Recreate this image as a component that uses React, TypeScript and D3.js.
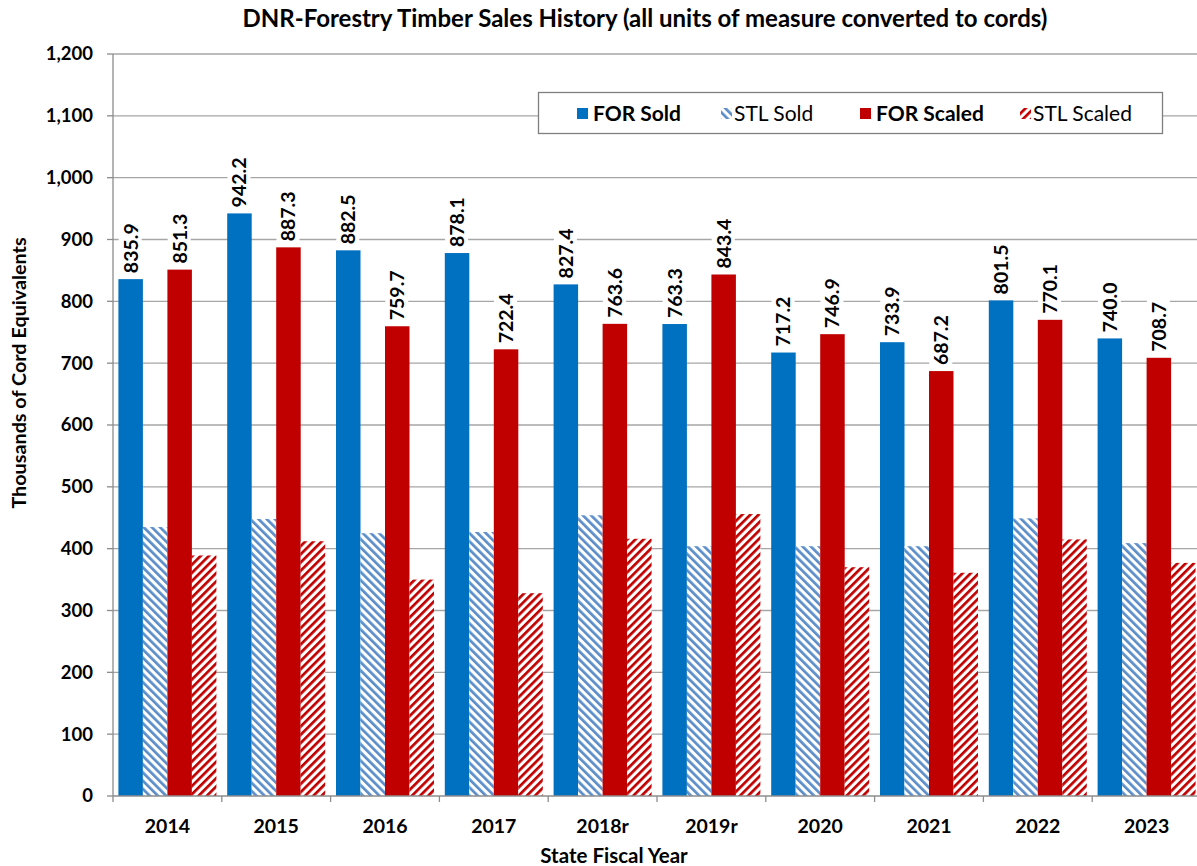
import React, { useEffect, useRef } from "react";
import * as d3 from "d3";

const categories = ["2014", "2015", "2016", "2017", "2018r", "2019r", "2020", "2021", "2022", "2023"];
const seriesNames = ["FOR Sold", "STL Sold", "FOR Scaled", "STL Scaled"];
const forSold = [835.9, 942.2, 882.5, 878.1, 827.4, 763.3, 717.2, 733.9, 801.5, 740.0];
const stlSold = [435, 448, 425, 427, 454, 404, 404, 404, 449, 409];
const forScaled = [851.3, 887.3, 759.7, 722.4, 763.6, 843.4, 746.9, 687.2, 770.1, 708.7];
const stlScaled = [389, 412, 350, 328, 416, 456, 370, 361, 415, 377];
const yTicks = [0, 100, 200, 300, 400, 500, 600, 700, 800, 900, 1000, 1100, 1200];

const W = 1197;
const H = 866;
const FONT = "Lato, 'Open Sans', sans-serif";

export default function App() {
  const ref = useRef<SVGSVGElement>(null);

  useEffect(() => {
    const svg = d3.select(ref.current);
    svg.selectAll("*").remove();

    const left = 113;
    const step = 108.8;
    const top = 54;
    const bottom = 796;

    const x = d3.scaleBand().domain(categories).range([left, left + step * 10]).paddingInner(0).paddingOuter(0);
    const xi = d3.scaleBand().domain(seriesNames).range([5.4, step - 5.4]).padding(0);
    const y = d3.scaleLinear().domain([0, 1200]).range([bottom, top]);

    const defs = svg.append("defs");
    const mk = (id: string, color: string, angle: number) => {
      const p = defs.append("pattern")
        .attr("id", id)
        .attr("patternUnits", "userSpaceOnUse")
        .attr("width", 5.8)
        .attr("height", 10)
        .attr("patternTransform", `rotate(${angle})`);
      p.append("rect").attr("width", 5.8).attr("height", 10).attr("fill", "white");
      p.append("rect").attr("x", 0).attr("width", 2.7).attr("height", 10).attr("fill", color);
    };
    mk("stlSold", "#5b8dc8", -45);
    mk("stlScaled", "#c00000", 45);

    // gridlines
    const g = svg.append("g");
    g.selectAll("line.grid")
      .data(yTicks.filter((d) => d > 0))
      .join("line")
      .attr("x1", left)
      .attr("x2", W)
      .attr("y1", (d) => y(d))
      .attr("y2", (d) => y(d))
      .attr("stroke", "#a6a6a6")
      .attr("stroke-width", 1.3);

    // bars
    const seriesData = [
      { name: "FOR Sold", values: forSold, fill: "#0070c0" },
      { name: "STL Sold", values: stlSold, fill: "url(#stlSold)" },
      { name: "FOR Scaled", values: forScaled, fill: "#c00000" },
      { name: "STL Scaled", values: stlScaled, fill: "url(#stlScaled)" },
    ];
    seriesData.forEach((s) => {
      g.append("g")
        .selectAll("rect")
        .data(s.values)
        .join("rect")
        .attr("x", (_d, i) => (x(categories[i]) as number) + (xi(s.name) as number))
        .attr("width", xi.bandwidth())
        .attr("y", (d) => y(d))
        .attr("height", (d) => y(0) - y(d))
        .attr("fill", s.fill);
    });

    // axes
    const axisColor = "#8c8c8c";
    g.append("line").attr("x1", left).attr("x2", left).attr("y1", top).attr("y2", bottom).attr("stroke", axisColor).attr("stroke-width", 1.3);
    g.append("line").attr("x1", left).attr("x2", W).attr("y1", bottom).attr("y2", bottom).attr("stroke", axisColor).attr("stroke-width", 1.3);
    g.selectAll("line.ytick")
      .data(yTicks)
      .join("line")
      .attr("x1", left - 6)
      .attr("x2", left)
      .attr("y1", (d) => y(d))
      .attr("y2", (d) => y(d))
      .attr("stroke", axisColor)
      .attr("stroke-width", 1.3);
    const bounds = categories.map((c) => x(c) as number);
    g.selectAll("line.xtick")
      .data(bounds)
      .join("line")
      .attr("x1", (d) => d)
      .attr("x2", (d) => d)
      .attr("y1", bottom)
      .attr("y2", bottom + 6)
      .attr("stroke", axisColor)
      .attr("stroke-width", 1.3);

    const fmt = d3.format(",");
    g.selectAll("text.ytl")
      .data(yTicks)
      .join("text")
      .attr("x", 93)
      .attr("y", (d) => y(d))
      .attr("dy", "0.35em")
      .attr("text-anchor", "end")
      .attr("font-family", FONT)
      .attr("font-weight", "bold")
      .attr("font-size", 18.5)
      .attr("fill", "#000")
      .text((d) => fmt(d));

    g.selectAll("text.xtl")
      .data(categories)
      .join("text")
      .attr("x", (d) => (x(d) as number) + step / 2)
      .attr("y", 833)
      .attr("text-anchor", "middle")
      .attr("font-family", FONT)
      .attr("font-weight", "bold")
      .attr("font-size", 19.5)
      .attr("fill", "#000")
      .text((d) => d);

    // value labels
    const labelSeries = [
      { name: "FOR Sold", values: forSold },
      { name: "FOR Scaled", values: forScaled },
    ];
    labelSeries.forEach((s) => {
      s.values.forEach((v, i) => {
        const cx = (x(categories[i]) as number) + (xi(s.name) as number) + xi.bandwidth() / 2;
        const by = y(v) - 6;
        const lg = g.append("g").attr("transform", `translate(${cx},${by}) rotate(-90)`);
        const t = lg.append("text")
          .attr("x", 0)
          .attr("y", 0)
          .attr("dy", "0.36em")
          .attr("text-anchor", "start")
          .attr("font-family", FONT)
          .attr("font-weight", "bold")
          .attr("font-size", 19.5)
          .attr("fill", "#000")
          .text(v.toFixed(1));
        const bb = (t.node() as SVGTextElement).getBBox();
        lg.insert("rect", "text")
          .attr("x", bb.x - 2)
          .attr("y", bb.y)
          .attr("width", bb.width + 4)
          .attr("height", bb.height)
          .attr("fill", "white");
      });
    });

    // legend
    const lgd = svg.append("g");
    lgd.append("rect")
      .attr("x", 538.5)
      .attr("y", 92.5)
      .attr("width", 624)
      .attr("height", 41)
      .attr("fill", "white")
      .attr("stroke", "#7f7f7f")
      .attr("stroke-width", 1.3);
    const legendItems = [
      { name: "FOR Sold", fill: "#0070c0", bold: true, sx: 577, tx: 593 },
      { name: "STL Sold", fill: "url(#stlSold)", bold: false, sx: 721, tx: 734 },
      { name: "FOR Scaled", fill: "#c00000", bold: true, sx: 860, tx: 876 },
      { name: "STL Scaled", fill: "url(#stlScaled)", bold: false, sx: 1020, tx: 1033 },
    ];
    legendItems.forEach((it) => {
      lgd.append("rect").attr("x", it.sx).attr("y", 108).attr("width", 11).attr("height", 11).attr("fill", it.fill);
      lgd.append("text")
        .attr("x", it.tx)
        .attr("y", 113)
        .attr("dy", "0.36em")
        .attr("font-family", FONT)
        .attr("font-weight", it.bold ? "bold" : "normal")
        .attr("font-size", 21)
        .attr("fill", "#000")
        .text(it.name);
    });

    // titles
    svg.append("text")
      .attr("x", 645)
      .attr("y", 27)
      .attr("text-anchor", "middle")
      .attr("font-family", FONT)
      .attr("font-weight", "bold")
      .attr("font-size", 24)
      .attr("fill", "#000")
      .text("DNR-Forestry Timber Sales History (all units of measure converted to cords)");

    svg.append("text")
      .attr("x", 614)
      .attr("y", 863)
      .attr("text-anchor", "middle")
      .attr("font-family", FONT)
      .attr("font-weight", "bold")
      .attr("font-size", 20.5)
      .attr("fill", "#000")
      .text("State Fiscal Year");

    svg.append("text")
      .attr("transform", `translate(26,373) rotate(-90)`)
      .attr("text-anchor", "middle")
      .attr("font-family", FONT)
      .attr("font-weight", "bold")
      .attr("font-size", 19.8)
      .attr("fill", "#000")
      .text("Thousands of Cord Equivalents");
  }, []);

  return (
    <svg
      ref={ref}
      width={W}
      height={H}
      viewBox={`0 0 ${W} ${H}`}
      style={{ position: "absolute", left: 0, top: 0, background: "white", display: "block" }}
    />
  );
}
